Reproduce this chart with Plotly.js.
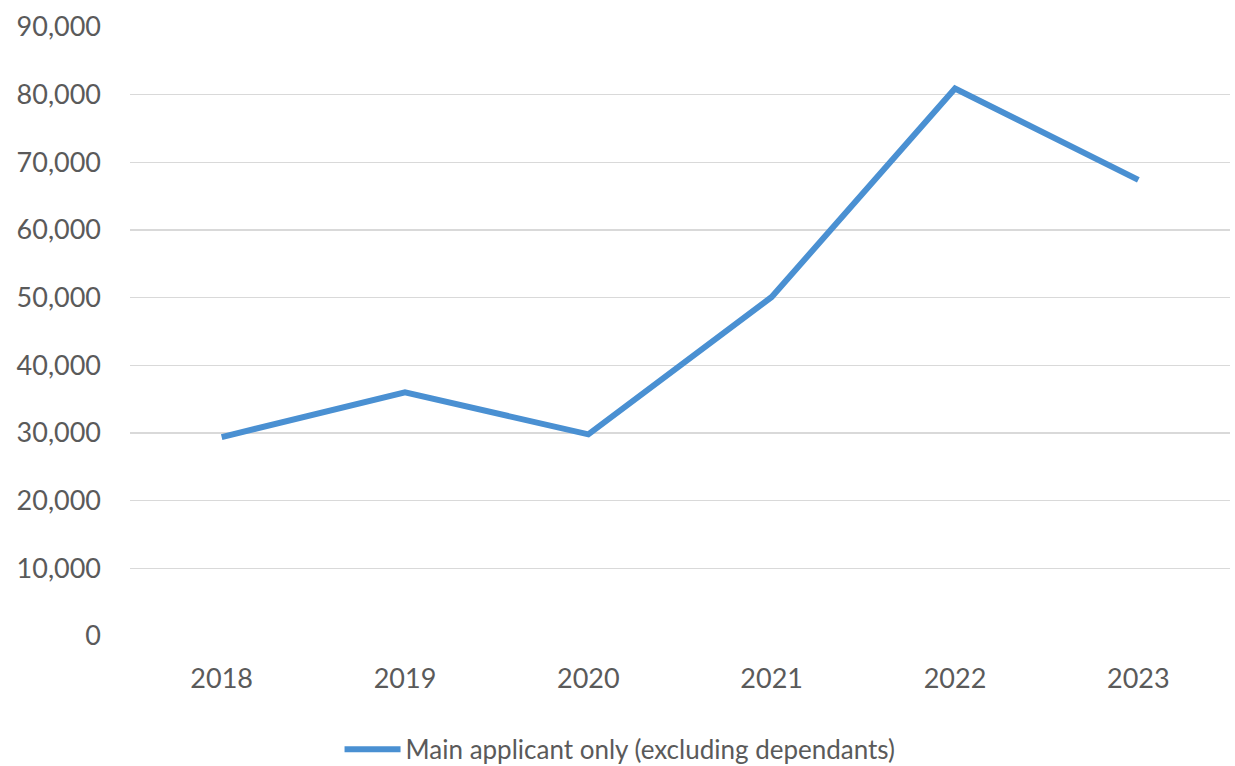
<!DOCTYPE html>
<html>
<head>
<meta charset="utf-8">
<script src="https://cdn.plot.ly/plotly-3.0.1.min.js"></script>
<style>
  html, body { margin: 0; padding: 0; background: #ffffff; }
  #chart { width: 1235px; height: 766px; }
</style>
</head>
<body>
<div id="chart"></div>
<script>
// Annual grants, main applicant only
const years = ['2018', '2019', '2020', '2021', '2022', '2023'];
const mainApplicants = [29400, 36000, 29800, 50100, 80900, 67400];
const yTickVals = [0, 10000, 20000, 30000, 40000, 50000, 60000, 70000, 80000, 90000];
const yTickText = ['0', '10,000', '20,000', '30,000', '40,000', '50,000', '60,000', '70,000', '80,000', '90,000'];
const seriesName = 'Main applicant only (excluding dependants)';

const fontFamily = 'Lato, "Open Sans", sans-serif';
const textColor = '#5a5a5a';
const tickFont = { family: fontFamily, size: 27, color: textColor };
const legendFont = { family: fontFamily, size: 26, color: textColor };

const trace = {
  type: 'scatter',
  mode: 'lines',
  x: years,
  y: mainApplicants,
  name: seriesName,
  line: { color: '#4A90D2', width: 6 },
  hoverinfo: 'x+y'
};

const layout = {
  width: 1235,
  height: 766,
  margin: { l: 130, r: 5, t: 27, b: 130, autoexpand: false },
  paper_bgcolor: '#ffffff',
  plot_bgcolor: '#ffffff',
  font: tickFont,
  showlegend: true,
  legend: {
    orientation: 'h',
    x: 0.4455,
    xanchor: 'center',
    y: -0.186,
    yanchor: 'middle',
    font: legendFont,
    itemwidth: 56,
    bgcolor: 'rgba(0,0,0,0)'
  },
  xaxis: {
    type: 'category',
    range: [-0.5, 5.5],
    showgrid: false,
    showline: false,
    zeroline: false,
    ticks: '',
    ticklabelstandoff: 24,
    tickfont: tickFont,
    fixedrange: true
  },
  yaxis: {
    range: [0, 90000],
    tickvals: yTickVals,
    ticktext: yTickText,
    showgrid: true,
    gridcolor: '#d9d9d9',
    gridwidth: 1.5,
    zeroline: false,
    showline: false,
    ticks: '',
    ticklabelstandoff: 28,
    tickfont: tickFont,
    fixedrange: true
  }
};

Plotly.newPlot('chart', [trace], layout, { displayModeBar: false, staticPlot: true });
</script>
</body>
</html>
